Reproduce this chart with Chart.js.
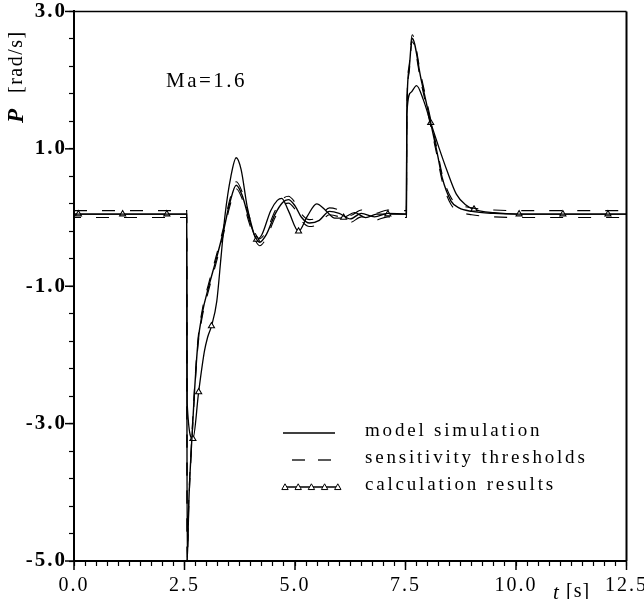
<!DOCTYPE html>
<html><head><meta charset="utf-8">
<script src="https://cdn.jsdelivr.net/npm/chart.js@4/dist/chart.umd.min.js"></script>
<style>html,body{margin:0;padding:0;background:#fff}canvas{display:block}</style>
</head><body>
<canvas id="c" width="644" height="599"></canvas>
<script>
// ---- tick labels ----
const xMajor = [0, 2.5, 5, 7.5, 10, 12.5];
const xTickLabels = ['0.0', '2.5', '5.0', '7.5', '10.0', '12.5'];
const yMajor = [-5, -3, -1, 1, 3];
const yTickLabels = ['-5.0', '-3.0', '-1.0', '1.0', '3.0'];

// ---- model simulation (solid) ----
const modelT = [0, 2.55, 2.56, 2.6, 2.66, 2.72, 2.8, 2.9, 3.05, 3.2, 3.38, 3.52, 3.67, 3.8, 3.95, 4.08, 4.2, 4.35, 4.55, 4.72, 4.85, 5.0, 5.15, 5.33, 5.55, 5.78, 6.0, 6.25, 6.5, 6.8, 7.1, 7.52, 7.53, 7.58, 7.65, 7.85, 8.07, 8.22, 8.33, 8.53, 8.71, 9.0, 9.5, 10.0, 12.5];
const modelP = [0.05, 0.05, -5.0, -4.1, -3.3, -2.6, -1.85, -1.4, -1.0, -0.65, -0.2, 0.2, 0.47, 0.33, 0.0, -0.25, -0.36, -0.25, 0.05, 0.22, 0.26, 0.17, 0.0, -0.08, -0.04, 0.09, 0.06, -0.02, 0.06, 0.01, 0.06, 0.05, 1.5, 2.15, 2.61, 2.02, 1.38, 0.93, 0.58, 0.24, 0.14, 0.09, 0.06, 0.05, 0.05];
// ---- sensitivity thresholds (dashed), same time base as the model ----
const upperP = [0.10, 0.10, -4.95, -4.05, -3.25, -2.55, -1.8, -1.35, -0.95, -0.6, -0.15, 0.25, 0.52, 0.38, 0.05, -0.2, -0.31, -0.2, 0.1, 0.27, 0.31, 0.22, 0.05, -0.03, 0.01, 0.14, 0.11, 0.03, 0.11, 0.06, 0.11, 0.10, 1.55, 2.2, 2.66, 2.07, 1.43, 0.98, 0.63, 0.29, 0.19, 0.14, 0.11, 0.10, 0.10];
const lowerP = [0.0, 0.0, -5.0, -4.15, -3.35, -2.65, -1.9, -1.45, -1.05, -0.7, -0.25, 0.15, 0.42, 0.28, -0.05, -0.3, -0.41, -0.3, 0.0, 0.17, 0.21, 0.12, -0.05, -0.13, -0.09, 0.04, 0.01, -0.07, 0.01, -0.04, 0.01, 0.0, 1.45, 2.1, 2.56, 1.97, 1.33, 0.88, 0.53, 0.19, 0.09, 0.04, 0.01, 0.0, 0.0];

// ---- calculation results (line with triangles) ----
const calcT = [0, 0.1, 1.1, 2.1, 2.55, 2.56, 2.69, 2.82, 2.95, 3.02, 3.11, 3.23, 3.33, 3.42, 3.55, 3.67, 3.78, 3.92, 4.02, 4.13, 4.25, 4.45, 4.6, 4.7, 4.85, 5.08, 5.28, 5.49, 5.7, 5.9, 6.1, 6.35, 6.6, 6.85, 7.1, 7.52, 7.53, 7.62, 7.75, 7.9, 8.07, 8.26, 8.44, 8.65, 8.85, 9.05, 9.5, 10.07, 11.06, 12.08, 12.5];
const calcP = [0.05, 0.05, 0.05, 0.05, 0.05, -2.7, -3.22, -2.54, -1.95, -1.75, -1.58, -1.22, -0.55, 0.05, 0.6, 0.87, 0.7, 0.15, -0.12, -0.32, -0.25, 0.1, 0.25, 0.28, 0.1, -0.2, 0.02, 0.2, 0.1, -0.01, 0.0, 0.07, 0.0, 0.05, 0.05, 0.05, 1.5, 1.82, 1.92, 1.72, 1.38, 1.01, 0.68, 0.34, 0.19, 0.12, 0.07, 0.05, 0.05, 0.05, 0.05];
const markTimes = [0.1, 1.1, 2.1, 2.69, 2.82, 3.11, 4.13, 5.08, 6.1, 7.1, 8.07, 9.05, 10.07, 11.06, 12.08];

const legendLabels = ['model simulation', 'sensitivity thresholds', 'calculation results'];

const FONT = '"Liberation Serif", "Times New Roman", serif';
const toXY = (ts, ps) => ts.map((t, i) => ({x: t, y: ps[i]}));
const near = (a, b) => Math.abs(a - b) < 1e-6;

const extras = {
  id: 'extras',
  beforeDraw(chart) { chart.ctx.letterSpacing = '2px'; },
  afterDraw(chart) {
    const {ctx, scales: {x, y}} = chart;
    const L = x.getPixelForValue(0), R = x.getPixelForValue(12.5);
    const T = y.getPixelForValue(3), B = y.getPixelForValue(-5);
    ctx.save();
    ctx.strokeStyle = '#000';
    ctx.fillStyle = '#000';
    const seg = (x1, y1, x2, y2) => { ctx.beginPath(); ctx.moveTo(x1, y1); ctx.lineTo(x2, y2); ctx.stroke(); };
    // frame (top and right)
    ctx.lineWidth = 1.5; seg(L, T, R, T);
    ctx.lineWidth = 2; seg(R, T, R, B);
    // longer major ticks
    ctx.lineWidth = 1.5;
    xMajor.forEach(v => { const p = x.getPixelForValue(v); seg(p, B, p, B + 9); });
    yMajor.forEach(v => { const p = y.getPixelForValue(v); seg(L - 9, p, L, p); });

    ctx.textBaseline = 'middle';
    ctx.textAlign = 'left';
    // y title, rotated
    ctx.save();
    ctx.translate(17, 78);
    ctx.rotate(-Math.PI / 2);
    ctx.letterSpacing = '0px';
    ctx.font = 'italic bold 23px ' + FONT;
    ctx.fillText('P', -45, 0);
    ctx.letterSpacing = '1.5px';
    ctx.font = '20px ' + FONT;
    ctx.fillText('[rad/s]', -15, 0);
    ctx.restore();

    // x title
    ctx.letterSpacing = '0px';
    ctx.font = 'italic 21px ' + FONT;
    ctx.fillText('t', 553, 593);
    ctx.letterSpacing = '1px';
    ctx.font = '20px ' + FONT;
    ctx.fillText('[s]', 566, 592);

    // annotation
    ctx.letterSpacing = '2.5px';
    ctx.font = '21px ' + FONT;
    ctx.fillText('Ma=1.6', 166, 81);

    // legend
    const ly = [433, 460, 487];
    ctx.lineWidth = 1.3;
    seg(283, ly[0], 335, ly[0]);
    ctx.setLineDash([13, 13]); seg(292, ly[1], 333, ly[1]); ctx.setLineDash([]);
    seg(283, ly[2], 340, ly[2]);
    ctx.lineWidth = 1;
    for (let i = 0; i < 5; i++) {
      const cx = 285 + i * 13.2, cy = ly[2], r = 3.2;
      ctx.beginPath();
      ctx.moveTo(cx, cy - r); ctx.lineTo(cx + r, cy + r * 0.8); ctx.lineTo(cx - r, cy + r * 0.8); ctx.closePath();
      ctx.fillStyle = '#fff'; ctx.fill(); ctx.stroke();
    }
    ctx.fillStyle = '#000';
    ctx.letterSpacing = '2.8px';
    ctx.font = '19px ' + FONT;
    legendLabels.forEach((s, i) => ctx.fillText(s, 365, ly[i] - 2));
    ctx.restore();
  }
};

new Chart(document.getElementById('c'), {
  type: 'line',
  data: {
    datasets: [
      { data: toXY(modelT, modelP), borderColor: '#000', borderWidth: 1.4, pointRadius: 0,
        cubicInterpolationMode: 'monotone', fill: false },
      { data: toXY(modelT, upperP), borderColor: '#000', borderWidth: 1.1, borderDash: [13, 15], pointRadius: 0,
        cubicInterpolationMode: 'monotone', fill: false },
      { data: toXY(modelT, lowerP), borderColor: '#000', borderWidth: 1.1, borderDash: [13, 15], borderDashOffset: 6, pointRadius: 0,
        cubicInterpolationMode: 'monotone', fill: false },
      { data: toXY(calcT, calcP), borderColor: '#000', borderWidth: 1.3,
        cubicInterpolationMode: 'monotone', fill: false,
        pointStyle: 'triangle',
        pointRadius: c => (c.raw && markTimes.some(m => near(m, c.raw.x))) ? 3.5 : 0,
        pointBackgroundColor: '#fff', pointBorderColor: '#000', pointBorderWidth: 1.1 }
    ]
  },
  options: {
    responsive: false,
    animation: false,
    devicePixelRatio: 1,
    layout: { padding: 0 },
    plugins: { legend: { display: false }, tooltip: { enabled: false } },
    scales: {
      x: {
        type: 'linear', min: 0, max: 12.5,
        afterBuildTicks: s => { const t = []; for (let i = 0; i <= 50; i++) t.push({value: i * 0.25}); s.ticks = t; },
        afterFit: s => { s.height = 38; },
        border: { display: true, color: '#000', width: 2 },
        grid: { drawOnChartArea: false, drawTicks: true, tickLength: 5, tickColor: '#000', tickWidth: 1.2 },
        ticks: {
          autoSkip: false, maxRotation: 0, padding: 0, color: '#000',
          font: { family: FONT, size: 20, lineHeight: 2.0 },
          callback: v => { const i = xMajor.findIndex(m => near(m, v)); return i >= 0 ? xTickLabels[i] : ''; }
        }
      },
      y: {
        type: 'linear', min: -5, max: 3,
        afterBuildTicks: s => { const t = []; for (let i = 0; i <= 20; i++) t.push({value: -5 + i * 0.4}); s.ticks = t; },
        afterFit: s => { s.width = 74; },
        border: { display: true, color: '#000', width: 2 },
        grid: { drawOnChartArea: false, drawTicks: true, tickLength: 5, tickColor: '#000', tickWidth: 1.2 },
        ticks: {
          autoSkip: false, padding: 2, color: '#000',
          font: { family: FONT, size: 21, weight: 'bold', lineHeight: 0.9 },
          callback: v => { const i = yMajor.findIndex(m => near(m, v)); return i >= 0 ? yTickLabels[i] : ''; }
        }
      }
    }
  },
  plugins: [extras]
});
</script>
</body></html>
